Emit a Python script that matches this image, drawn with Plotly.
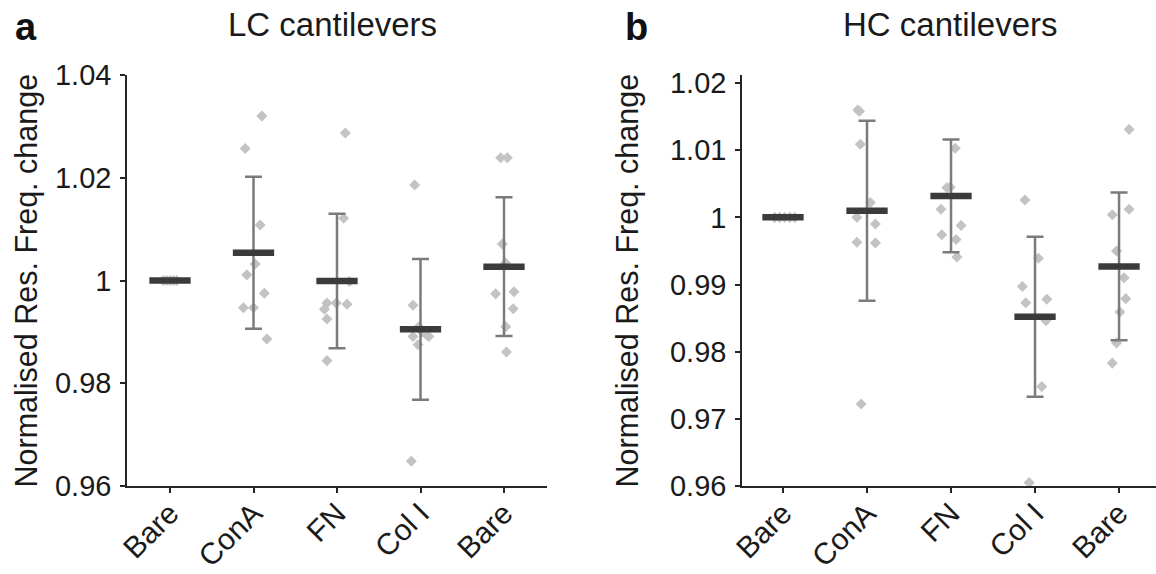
import plotly.graph_objects as go

categories = ["Bare", "ConA", "FN", "Col I", "Bare"]
cat_pos = [1, 2, 3, 4, 5]

# ---- LC cantilevers (panel a) ----
lc_bare1_y = [1.0, 1.0, 1.0, 1.0, 1.0]
lc_bare1_dx = [-0.08, -0.04, 0.0, 0.04, 0.08]
lc_cona_y = [1.0320, 1.0257, 1.0108, 1.0032, 1.0011, 0.9975, 0.9947, 0.9947, 0.9886]
lc_cona_dx = [0.10, -0.10, 0.08, 0.02, -0.08, 0.13, -0.12, 0.0, 0.16]
lc_fn_y = [1.0287, 1.0121, 0.9998, 0.9956, 0.9956, 0.9954, 0.9944, 0.9925, 0.9844]
lc_fn_dx = [0.10, 0.08, 0.15, -0.12, -0.01, 0.12, -0.15, -0.12, -0.12]
lc_col_y = [1.0186, 0.9952, 0.9910, 0.9900, 0.9891, 0.9893, 0.9875, 0.9891, 0.9648]
lc_col_dx = [-0.07, -0.09, -0.02, 0.02, -0.09, 0.08, -0.03, 0.10, -0.11]
lc_bare5_y = [1.0239, 1.0239, 1.0071, 1.0034, 0.9974, 0.9978, 0.9945, 0.9910, 0.9861]
lc_bare5_dx = [-0.04, 0.04, -0.02, 0.02, -0.10, 0.12, 0.11, 0.02, 0.03]
lc_mean = [1.0, 1.0054, 0.9999, 0.9905, 1.0027]
lc_sd = [0.0, 0.0148, 0.0131, 0.0137, 0.0135]

# ---- HC cantilevers (panel b) ----
hc_bare1_y = [1.0, 1.0, 1.0, 1.0, 1.0]
hc_bare1_dx = [-0.10, -0.04, 0.02, 0.08, 0.14]
hc_cona_y = [1.0160, 1.0158, 1.0109, 1.0022, 1.0000, 0.9990, 0.9963, 0.9962, 0.9722]
hc_cona_dx = [-0.11, -0.09, -0.08, 0.04, -0.12, 0.10, -0.12, 0.10, -0.07]
hc_fn_y = [1.0213, 1.0103, 1.0045, 1.0044, 1.0012, 0.9988, 0.9974, 0.9967, 0.9941]
hc_fn_dx = [0.05, 0.05, -0.01, -0.05, -0.12, 0.12, -0.11, 0.06, 0.07]
hc_col_y = [1.0026, 0.9939, 0.9897, 0.9873, 0.9878, 0.9846, 0.9748, 0.9605]
hc_col_dx = [-0.12, 0.04, -0.15, -0.11, 0.14, 0.13, 0.08, -0.07]
hc_bare5_y = [1.0131, 1.0012, 1.0004, 0.9950, 0.9910, 0.9879, 0.9859, 0.9813, 0.9783]
hc_bare5_dx = [0.12, 0.12, -0.08, -0.03, 0.06, 0.08, 0.01, -0.03, -0.08]
hc_mean = [1.0, 1.0010, 1.0032, 0.9852, 0.9927]
hc_sd = [0.0, 0.0134, 0.0084, 0.0119, 0.0110]

lc_tickvals = [0.96, 0.98, 1.0, 1.02, 1.04]
lc_ticktext = ["0.96", "0.98", "1", "1.02", "1.04"]
hc_tickvals = [0.96, 0.97, 0.98, 0.99, 1.0, 1.01, 1.02]
hc_ticktext = ["0.96", "0.97", "0.98", "0.99", "1", "1.01", "1.02"]

lc_groups = [(lc_bare1_y, lc_bare1_dx), (lc_cona_y, lc_cona_dx), (lc_fn_y, lc_fn_dx),
             (lc_col_y, lc_col_dx), (lc_bare5_y, lc_bare5_dx)]
hc_groups = [(hc_bare1_y, hc_bare1_dx), (hc_cona_y, hc_cona_dx), (hc_fn_y, hc_fn_dx),
             (hc_col_y, hc_col_dx), (hc_bare5_y, hc_bare5_dx)]

PT_COLOR = "#c3c3c3"
ERR_COLOR = "#7b7b7b"
MEAN_COLOR = "#3b3b3b"
AX_COLOR = "#262626"
FONT = "Liberation Sans, Arial, Helvetica, sans-serif"

fig = go.Figure()


def add_panel(groups, means, sds, xa, ya):
    xs, ys = [], []
    for pos, (yv, dx) in zip(cat_pos, groups):
        for v, d in zip(yv, dx):
            xs.append(pos + d)
            ys.append(v)
    fig.add_trace(go.Scatter(
        x=xs, y=ys, mode="markers", xaxis=xa, yaxis=ya, cliponaxis=False,
        marker=dict(symbol="diamond", size=8.5, color=PT_COLOR, line=dict(width=0)),
        showlegend=False, hoverinfo="skip"))
    err_x = [p for p, s in zip(cat_pos, sds) if s > 0]
    err_y = [m for m, s in zip(means, sds) if s > 0]
    err_v = [s for s in sds if s > 0]
    fig.add_trace(go.Scatter(
        x=err_x, y=err_y, mode="markers", xaxis=xa, yaxis=ya,
        marker=dict(size=1, opacity=0),
        error_y=dict(type="data", array=err_v, visible=True, color=ERR_COLOR,
                     thickness=2.5, width=8.5),
        showlegend=False, hoverinfo="skip"))
    fig.add_trace(go.Scatter(
        x=cat_pos, y=means, mode="markers", xaxis=xa, yaxis=ya, cliponaxis=False,
        marker=dict(symbol="line-ew", size=29.5, color=MEAN_COLOR,
                    line=dict(width=6.5, color=MEAN_COLOR)),
        showlegend=False, hoverinfo="skip"))


add_panel(lc_groups, lc_mean, lc_sd, "x", "y")
add_panel(hc_groups, hc_mean, hc_sd, "x2", "y2")

W, H = 1156, 574
ydom = [1 - 486 / H, 1 - 75 / H]

xcommon = dict(tickmode="array", tickvals=cat_pos, ticktext=categories, tickangle=-45,
               showline=True, linecolor=AX_COLOR, linewidth=1.5, ticks="outside",
               ticklen=5, tickwidth=1.5, tickcolor=AX_COLOR, showgrid=False, zeroline=False,
               automargin=False, ticklabelstandoff=-9,
               tickfont=dict(size=30, color="#1a1a1a", family=FONT), fixedrange=True)
ycommon = dict(tickmode="array", showline=True, linecolor=AX_COLOR, linewidth=1.5,
               ticks="outside", ticklen=5, tickwidth=1.5, tickcolor=AX_COLOR,
               showgrid=False, zeroline=False, ticklabelstandoff=3, automargin=False,
               tickfont=dict(size=29, color="#1a1a1a", family=FONT), fixedrange=True)

fig.update_layout(
    width=W, height=H, margin=dict(l=0, r=0, t=0, b=0, autoexpand=False),
    paper_bgcolor="white", plot_bgcolor="white",
    font=dict(family=FONT, color="#1a1a1a"),
    xaxis=dict(domain=[127 / W, 547 / W], range=[0.485, 5.515], anchor="y", **xcommon),
    yaxis=dict(domain=ydom, range=[0.96, 1.04], tickvals=lc_tickvals, ticktext=lc_ticktext,
               anchor="x", **ycommon),
    xaxis2=dict(domain=[742 / W, 1.0], range=[0.512, 5.44], anchor="y2", **xcommon),
    yaxis2=dict(domain=ydom, range=[0.96, 1.0212], tickvals=hc_tickvals, ticktext=hc_ticktext,
                anchor="x2", **ycommon),
)

ymid = (ydom[0] + ydom[1]) / 2
annots = [
    dict(text="Normalised Res. Freq. change", x=26 / W, y=ymid, textangle=-90, size=30.5),
    dict(text="Normalised Res. Freq. change", x=627 / W, y=ymid, textangle=-90, size=30.5),
    dict(text="LC cantilevers", x=333 / W, y=1 - 25 / H, textangle=0, size=33),
    dict(text="HC cantilevers", x=950 / W, y=1 - 25 / H, textangle=0, size=33),
]
for a in annots:
    sz = a.pop("size")
    fig.add_annotation(xref="paper", yref="paper", showarrow=False, xanchor="center",
                       yanchor="middle", font=dict(size=sz, family=FONT, color="#1a1a1a"), **a)
fig.add_annotation(text="<b>a</b>", xref="paper", yref="paper", x=26 / W, y=1 - 27 / H,
                   showarrow=False, xanchor="center", yanchor="middle",
                   font=dict(size=38, family=FONT, color="#111111"))
fig.add_annotation(text="<b>b</b>", xref="paper", yref="paper", x=637 / W, y=1 - 27 / H,
                   showarrow=False, xanchor="center", yanchor="middle",
                   font=dict(size=38, family=FONT, color="#111111"))

fig.write_html("out.html", config={"displayModeBar": False})
